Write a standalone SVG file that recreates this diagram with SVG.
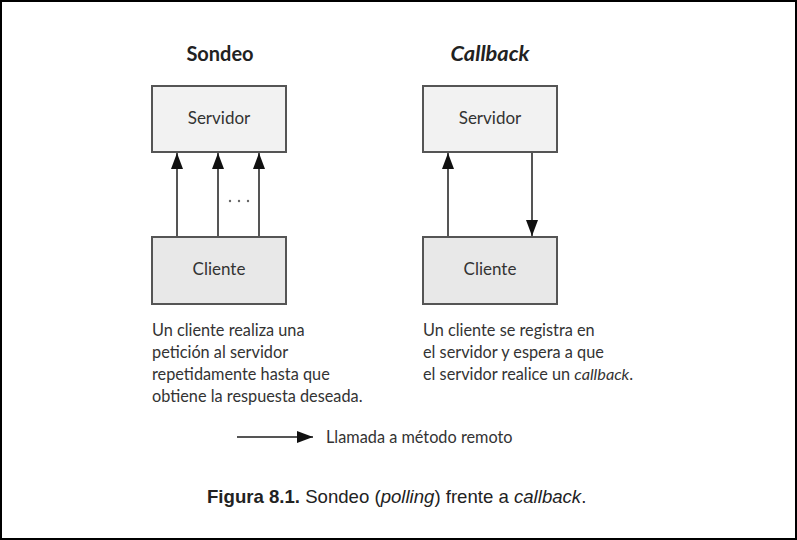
<svg xmlns="http://www.w3.org/2000/svg" width="797" height="540" viewBox="0 0 797 540">
<defs>
<marker id="ah" viewBox="0 0 16 12" refX="16" refY="6" markerWidth="16" markerHeight="12" markerUnits="userSpaceOnUse" orient="auto">
<path d="M0,0 L16,6 L0,12 Z" fill="#111"/>
</marker>
<style>
.t{font-family:Lato,"Open Sans","Liberation Sans",sans-serif;fill:#333;font-size:16.3px}
.b{font-size:17px}
.h{font-family:Lato,"Open Sans","Liberation Sans",sans-serif;fill:#222;font-size:20px;font-weight:bold}
.srv{fill:#f2f2f2;stroke:#555;stroke-width:2}
.cli{fill:#e8e8e8;stroke:#555;stroke-width:2}
.c{stroke:#555;stroke-width:2;fill:none;marker-end:url(#ah)}
.cap{font-family:"Liberation Sans",Arial,sans-serif;fill:#222;font-size:18.6px}
</style>
</defs>
<rect x="0" y="0" width="797" height="540" fill="#fff"/>
<rect x="1" y="1" width="795" height="538" fill="none" stroke="#000" stroke-width="2"/>

<text class="h" x="220" y="61" text-anchor="middle">Sondeo</text>
<text class="h" x="490" y="61" text-anchor="middle" font-style="italic" textLength="79" lengthAdjust="spacingAndGlyphs">Callback</text>

<g id="servidor1">
<rect class="srv" x="152" y="86" width="134" height="66"/>
<text class="t b" x="219" y="124" text-anchor="middle">Servidor</text>
</g>
<g id="cliente1">
<rect class="cli" x="152" y="237" width="134" height="67"/>
<text class="t b" x="219" y="275" text-anchor="middle">Cliente</text>
</g>
<g id="servidor2">
<rect class="srv" x="423" y="86" width="134" height="66"/>
<text class="t b" x="490" y="124" text-anchor="middle">Servidor</text>
</g>
<g id="cliente2">
<rect class="cli" x="423" y="237" width="134" height="67"/>
<text class="t b" x="490" y="275" text-anchor="middle">Cliente</text>
</g>

<g id="connectors">
<line class="c" x1="177" y1="237" x2="177" y2="153"/>
<line class="c" x1="218" y1="237" x2="218" y2="153"/>
<line class="c" x1="259" y1="237" x2="259" y2="153"/>
<line class="c" x1="448" y1="237" x2="448" y2="153"/>
<line class="c" x1="532" y1="152" x2="532" y2="236"/>
<line class="c" x1="237" y1="437" x2="313" y2="437"/>
</g>
<g fill="#666">
<circle cx="230" cy="201" r="1.2"/>
<circle cx="239" cy="201" r="1.2"/>
<circle cx="248" cy="201" r="1.2"/>
</g>

<g id="desc1" class="t">
<text x="152" y="336">Un cliente realiza una</text>
<text x="152" y="358">petición al servidor</text>
<text x="152" y="380">repetidamente hasta que</text>
<text x="152" y="402">obtiene la respuesta deseada.</text>
</g>
<g id="desc2" class="t">
<text x="423" y="336">Un cliente se registra en</text>
<text x="423" y="358">el servidor y espera a que</text>
<text x="423" y="380">el servidor realice un <tspan font-style="italic">callback</tspan>.</text>
</g>

<text class="t" x="326" y="443" font-size="16.7">Llamada a método remoto</text>

<text class="cap" x="207" y="503"><tspan font-weight="bold">Figura 8.1.</tspan> Sondeo (<tspan font-style="italic">polling</tspan>) frente a <tspan font-style="italic">callback</tspan>.</text>
</svg>
